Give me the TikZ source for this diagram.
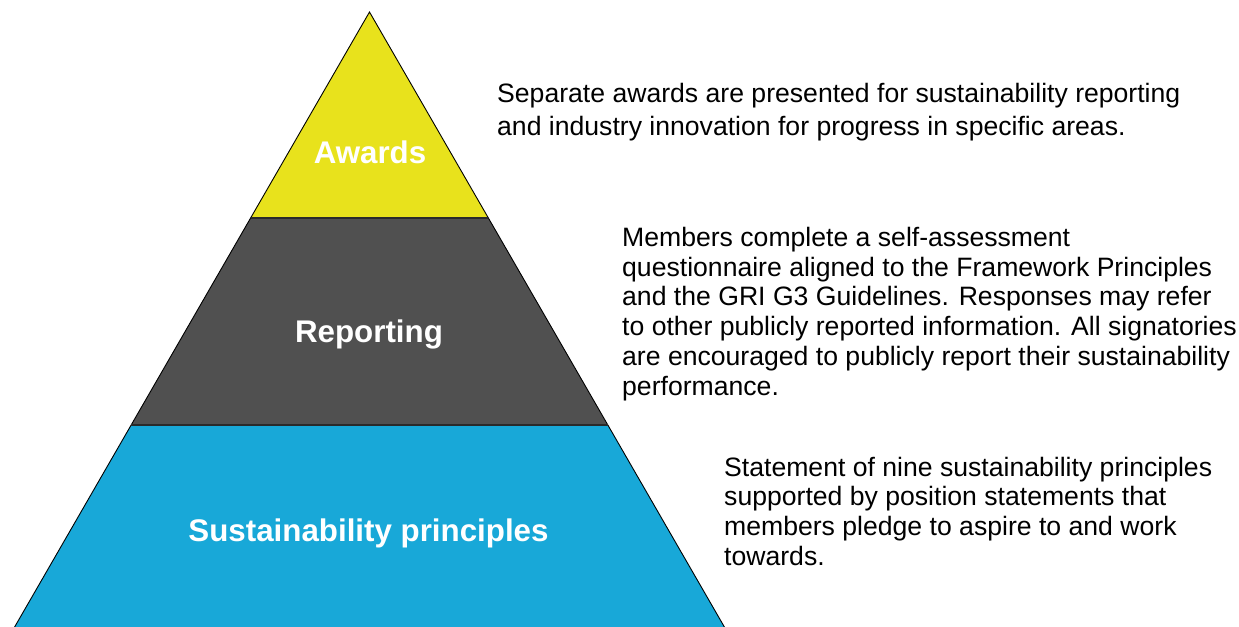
\documentclass[tikz,border=0pt]{standalone}
\usepackage{fontspec}
\setmainfont{Liberation Sans}
\definecolor{pyryellow}{HTML}{E8E21C}
\definecolor{pyrgray}{HTML}{505050}
\definecolor{pyrblue}{HTML}{18A8D8}
\definecolor{divline}{HTML}{2A2A2A}
\tikzset{
  tierlabel/.style={text=white, font=\fontsize{31.3bp}{36bp}\selectfont\bfseries, inner sep=0pt, anchor=base},
  desc/.style={inner sep=0pt, anchor=base west, text=black},
  edge/.style={draw=black, line width=0.9bp, line join=miter},
  divider/.style={draw=divline, line width=2bp}
}
\newcommand{\desctext}[2]{\parbox[t]{#1}{\raggedright\fontsize{26.6bp}{29.7bp}\selectfont #2}}
\begin{document}
\begin{tikzpicture}[x=1bp,y=-1bp]
\useasboundingbox (0,0) rectangle (1239,627);
% pyramid corner coordinates
\coordinate (apex) at (369.5,12);
\coordinate (l1) at (250.6,218);
\coordinate (r1) at (488.4,218);
\coordinate (l2) at (131.2,425);
\coordinate (r2) at (607.8,425);
\coordinate (l3) at (14.6,627);
\coordinate (r3) at (724.4,627);
% tiers
\fill[pyryellow] (apex) -- (l1) -- (r1) -- cycle;
\fill[pyrgray] (l1) -- (l2) -- (r2) -- (r1) -- cycle;
\fill[pyrblue] (l2) -- (l3) -- (r3) -- (r2) -- cycle;
% outline
\draw[edge] (l3) -- (apex) -- (r3);
\draw[divider] (l1) -- (r1);
\draw[divider] (l2) -- (r2);
% tier labels
\node[tierlabel] (awards) at (370,163.3) {Awards};
\node[tierlabel] (reporting) at (369,342.7) {Reporting};
\node[tierlabel] (principles) at (368.5,541) {Sustainability principles};
% descriptions
\node[desc] (d1) at (497,102.5) {\parbox[t]{740bp}{\raggedright\fontsize{26.6bp}{33bp}\selectfont Separate awards are presented for sustainability reporting\\and industry innovation for progress in specific areas.}};
\node[desc] (d2) at (622,246.5) {\desctext{640bp}{Members complete a self-assessment\\questionnaire aligned to the Framework Principles\\and the GRI G3 Guidelines. Responses may refer\\to other publicly reported information. All signatories\\are encouraged to publicly report their sustainability\\performance.}};
\node[desc] (d3) at (724,476) {\desctext{500bp}{Statement of nine sustainability principles\\supported by position statements that\\members pledge to aspire to and work\\towards.}};
\end{tikzpicture}
\end{document}
